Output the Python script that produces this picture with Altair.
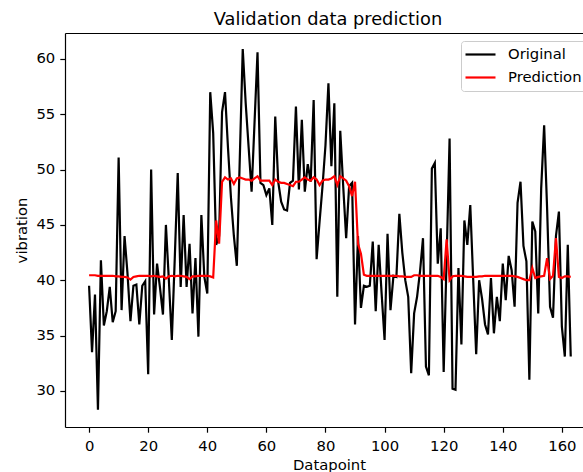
import altair as alt
import pandas as pd

# ---- data ----
original = [
    39.5, 33.5, 38.7, 28.3, 41.8, 35.9, 37.2, 39.4, 36.2, 37.2,
    51.1, 37.3, 44.0, 40.6, 36.3, 39.5, 39.6, 36.0, 39.5, 39.9,
    31.5, 50.0, 36.9, 41.5, 39.3, 36.9, 45.0, 40.0, 34.6, 42.0,
    49.7, 39.4, 45.9, 39.4, 43.3, 37.0, 42.0, 34.9, 45.9, 40.3,
    38.8, 57.0, 53.3, 43.2, 44.0, 55.2, 57.0, 52.0, 47.5, 44.0,
    41.3, 51.0, 60.9, 56.0, 52.0, 48.0, 54.3, 60.6, 48.8, 48.6,
    47.7, 48.3, 45.0, 54.8, 48.9, 47.1, 46.4, 46.3, 48.8, 49.0,
    55.7, 48.2, 54.5, 48.0, 50.5, 48.9, 56.3, 41.9, 45.3, 48.5,
    52.2, 57.8, 50.3, 56.0, 38.5, 53.5, 48.5, 43.8, 48.5, 48.8,
    36.0, 44.0, 37.5, 39.5, 39.4, 39.5, 43.5, 37.2, 43.2, 38.8,
    34.6, 44.2, 37.3, 40.4, 40.3, 46.0, 42.5, 40.0, 38.5, 31.6,
    37.0, 38.5, 40.8, 43.8, 32.2, 31.4, 50.1, 50.6, 41.5, 44.7,
    31.7, 42.0, 52.8, 30.2, 30.1, 41.1, 34.2, 45.4, 43.2, 46.8,
    40.0, 33.3, 40.0, 38.3, 36.0, 35.1, 40.2, 35.2, 38.5, 36.3,
    41.5, 38.2, 42.2, 40.9, 37.6, 47.0, 48.9, 43.1, 41.7, 31.0,
    45.3, 44.4, 37.0, 48.3, 54.0, 46.5, 37.6, 36.6, 44.0, 46.2,
    35.8, 33.1, 43.2, 33.1,
]

prediction = [
    40.45, 40.45, 40.45, 40.4, 40.4, 40.4, 40.4, 40.4, 40.4, 40.35,
    40.35, 40.3, 40.3, 40.25, 40.05, 40.3, 40.35, 40.4, 40.4, 40.4,
    40.4, 40.35, 40.4, 40.35, 40.3, 40.35, 40.15, 40.35, 40.4, 40.35,
    40.4, 40.4, 40.35, 40.3, 40.1, 40.35, 40.35, 40.4, 40.4, 40.4,
    40.4, 40.35, 40.25, 45.4, 43.3, 48.9, 49.3, 49.1, 49.2, 48.7,
    49.2, 49.3, 49.2, 49.1, 49.1, 49.0, 49.2, 49.4, 49.0, 49.0,
    49.0, 49.0, 48.6, 49.1, 48.9, 48.8, 48.8, 48.7, 48.6, 48.5,
    48.9, 48.9, 49.1, 49.3, 49.1, 49.0, 49.3, 49.1, 48.6, 49.0,
    49.1, 49.1, 49.2, 49.4, 48.6, 49.4, 49.2, 49.0, 48.5, 47.6,
    48.9, 43.3, 42.4, 40.5, 40.4, 40.4, 40.4, 40.4, 40.4, 40.4,
    40.4, 40.4, 40.4, 40.4, 40.4, 40.35, 40.35, 40.3, 40.3, 40.3,
    40.45, 40.45, 40.4, 40.4, 40.4, 40.4, 40.4, 40.4, 40.4, 40.3,
    40.1, 43.7, 40.0, 40.35, 40.4, 40.4, 40.4, 40.35, 40.3, 40.3,
    40.3, 40.3, 40.35, 40.35, 40.4, 40.4, 40.4, 40.4, 40.4, 40.4,
    40.4, 40.4, 40.4, 40.4, 40.35, 40.3, 40.2, 40.1, 40.0, 40.0,
    41.1, 40.2, 40.3, 40.35, 40.4, 42.0, 40.1, 40.4, 43.8, 40.3,
    40.2, 40.35, 40.35, 40.3,
]

x_ticks = [0, 20, 40, 60, 80, 100, 120, 140, 160]
y_ticks = [30, 35, 40, 45, 50, 55, 60]
series_names = ["Original", "Prediction"]
series_colors = ["black", "red"]

n = len(original)
df = pd.DataFrame({
    "Datapoint": list(range(n)) * 2,
    "vibration": original + prediction,
    "series": [series_names[0]] * n + [series_names[1]] * n,
})

FONT = "DejaVu Sans"
FS = 14.8

x_scale = alt.Scale(domain=[-8.15, 167.15], nice=False, zero=False)
y_scale = alt.Scale(domain=[26.73, 62.35], nice=False, zero=False)

color = alt.Color(
    "series:N",
    scale=alt.Scale(domain=series_names, range=series_colors),
    legend=alt.Legend(
        title=None,
        orient="none",
        legendX=396,
        legendY=8,
        padding=6,
        rowPadding=7,
        strokeColor="#cccccc",
        fillColor="white",
        cornerRadius=3,
        symbolType="M-2.5,0L2.5,0",
        symbolSize=144,
        symbolStrokeWidth=2.2,
        symbolOffset=6,
        labelOffset=20,
        labelFont=FONT,
        labelFontSize=FS,
        labelColor="black",
    ),
)

y_enc = alt.Y(
    "vibration:Q",
    scale=y_scale,
    axis=alt.Axis(
        values=y_ticks,
        title="vibration",
        titleX=-39,
        titleY=197,
        titleAngle=270,
        titleAlign="center",
        titleBaseline="alphabetic",
        labelPadding=5,
    ),
)

base = alt.Chart(df)

orig_layer = base.transform_filter(alt.datum.series == series_names[0]).mark_line(
    strokeWidth=2.2
).encode(
    x=alt.X(
        "Datapoint:Q",
        scale=x_scale,
        axis=alt.Axis(
            values=x_ticks,
            orient="bottom",
            title="Datapoint",
            titleX=264,
            titleY=42,
            titleAlign="center",
            titleBaseline="alphabetic",
            labelPadding=6,
        ),
    ),
    y=y_enc,
    color=color,
)

pred_layer = base.transform_filter(alt.datum.series == series_names[1]).mark_line(
    strokeWidth=2.2
).encode(
    x=alt.X(
        "Datapoint:Q",
        scale=x_scale,
        axis=alt.Axis(orient="top", labels=False, ticks=False, title=None, domain=True),
    ),
    y=y_enc,
    color=color,
)

chart = (
    alt.layer(orig_layer, pred_layer)
    .resolve_axis(x="independent")
    .properties(
        width=518,
        height=394,
        autosize=alt.AutoSizeParams(type="none"),
        padding={"left": 65, "top": 33, "right": 0, "bottom": 45},
        title=alt.TitleParams(
            "Validation data prediction",
            font=FONT,
            fontSize=17.8,
            fontWeight="normal",
            color="black",
            anchor="middle",
            frame="group",
            offset=9,
            baseline="alphabetic",
            dx=4,
            dy=19,
        ),
    )
    .configure_view(stroke=None)
    .configure_axis(
        grid=False,
        domainColor="black",
        domainWidth=1.2,
        tickColor="black",
        tickWidth=1.2,
        tickSize=5.2,
        labelFont=FONT,
        labelFontSize=FS,
        labelColor="black",
        titleFont=FONT,
        titleFontSize=FS,
        titleFontWeight="normal",
        titleColor="black",
    )
)

chart.save("out.html", embed_options={"renderer": "svg", "actions": False})
